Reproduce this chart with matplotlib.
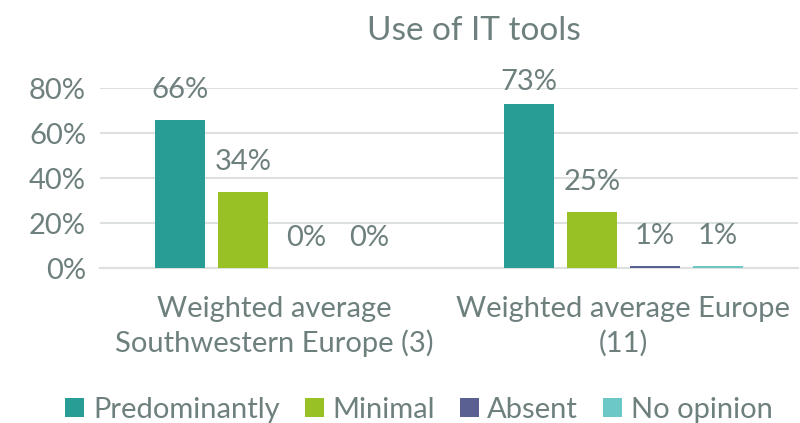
import matplotlib
matplotlib.use("Agg")
import matplotlib.pyplot as plt
import numpy as np
from matplotlib.patches import Patch

categories = ["Weighted average\nSouthwestern Europe (3)", "Weighted average Europe\n(11)"]
series_names = ["Predominantly", "Minimal", "Absent", "No opinion"]
predominantly = [66, 73]
minimal = [34, 25]
absent = [0, 1]
no_opinion = [0, 1]
series_values = [predominantly, minimal, absent, no_opinion]
colors = ["#279D96", "#97C125", "#5A6192", "#6CC7C7"]
yticks = [0, 20, 40, 60, 80]
ytick_labels = ["0%", "20%", "40%", "60%", "80%"]

txt = "#6E807E"
plt.rcParams['font.family'] = ['Lato', 'DejaVu Sans']

fig = plt.figure(figsize=(8, 4.23), dpi=100)
ax = fig.add_axes([100/800, 1-268/423, 698/800, 180/423])

x = np.arange(len(categories))
bw = 0.143
step = 0.18
label_gap = 7.4      # data units above bar
label_cap = 76.8     # labels kept inside the chart area (as Excel does)
for i, (name, vals, c) in enumerate(zip(series_names, series_values, colors)):
    pos = x + (i - 1.5) * step
    ax.bar(pos, vals, width=bw, color=c, zorder=3)
    for p, v in zip(pos, vals):
        ax.text(p, min(v + label_gap, label_cap), f"{v}%", ha="center", va="bottom",
                fontsize=21, color=txt, clip_on=False)

ax.set_xlim(-0.5, 1.5)
ax.set_ylim(0, 80)
ax.set_yticks(yticks)
ax.set_yticklabels(ytick_labels, fontsize=21, color=txt)
ax.set_xticks(x)
ax.set_xticklabels(categories, fontsize=21, color=txt, linespacing=1.35)
ax.tick_params(axis="both", length=0, pad=10)
ax.tick_params(axis="x", pad=20)
ax.grid(axis="y", color="#DCE0DF", linewidth=1.5, zorder=0)
for s in ["top", "right", "left"]:
    ax.spines[s].set_visible(False)
ax.spines["bottom"].set_color("#DCE0DF")
ax.spines["bottom"].set_linewidth(1.5)

fig.text(474/800, 1-31/423, "Use of IT tools", ha="center", va="center", fontsize=24, color=txt)

handles = [Patch(facecolor=c, edgecolor="none") for c in colors]
fig.legend(handles, series_names, loc="center", bbox_to_anchor=(419/800, 1-410/423),
           ncol=4, frameon=False, fontsize=21, labelcolor=txt, handlelength=0.65,
           handleheight=0.65, handletextpad=0.3, columnspacing=0.85)

fig.savefig("out.png", dpi=100)
